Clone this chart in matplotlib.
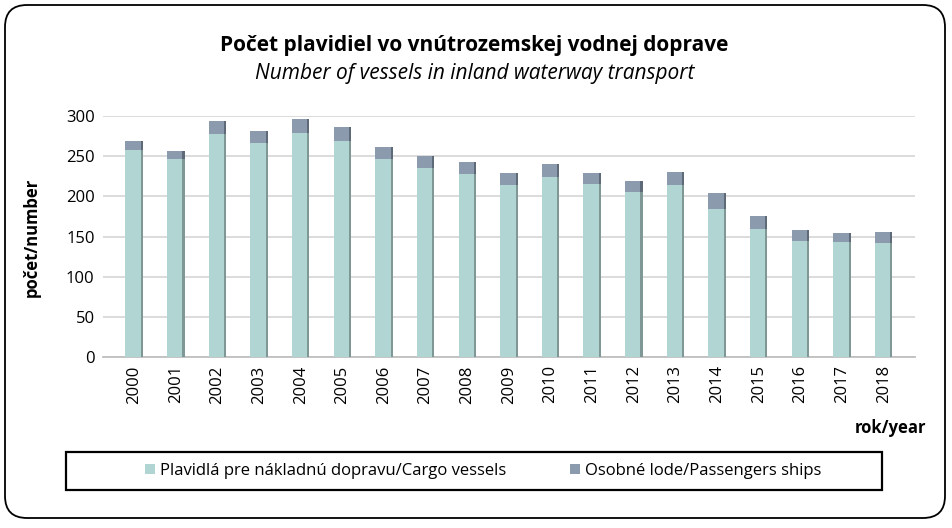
import numpy as np
import matplotlib
matplotlib.use("Agg")
import matplotlib.pyplot as plt
from matplotlib.patches import FancyBboxPatch, Rectangle

# data
years = [str(y) for y in range(2000, 2019)]
cargo = [258, 246, 278, 266, 279, 269, 246, 236, 228, 214,
         224, 216, 206, 214, 184, 159, 144, 143, 142]
passenger = [11, 11, 16, 15, 18, 17, 16, 14, 15, 15,
             17, 13, 13, 17, 20, 16, 14, 12, 14]
yticks = [0, 50, 100, 150, 200, 250, 300]

plt.rcParams['font.family'] = ['Open Sans', 'DejaVu Sans']

CARGO_C = '#b0d5d3'
PASS_C = '#8b9aac'

fig = plt.figure(figsize=(9.53, 5.28), dpi=100)
ax = fig.add_axes([0.108, 0.324, 0.852, 0.456])

x = np.arange(len(years))
w = 0.42
ax.bar(x, cargo, width=w, color=CARGO_C, zorder=3, label='Plavidlá pre nákladnú dopravu/Cargo vessels')
ax.bar(x, passenger, width=w, bottom=cargo, color=PASS_C, zorder=3, label='Osobné lode/Passengers ships')
# dark shade on the right side of each bar
sw = 0.05
ax.bar(x + w / 2 - sw / 2, cargo, width=sw, color='#7f9896', zorder=4)
ax.bar(x + w / 2 - sw / 2, passenger, width=sw, bottom=cargo, color='#5f6a78', zorder=4)

ax.set_xlim(-0.75, len(years) - 0.25)
ax.set_ylim(0, 300)
ax.set_yticks(yticks)
ax.set_yticklabels([str(v) for v in yticks], fontsize=12)
ax.set_xticks(x)
ax.set_xticklabels(years, rotation=90, fontsize=12)
ax.tick_params(axis='both', length=0, pad=6)
ax.grid(axis='y', color='#d9d9d9', linewidth=1.3, zorder=0)
for s in ['top', 'right', 'left']:
    ax.spines[s].set_visible(False)
ax.spines['bottom'].set_color('#bfbfbf')
ax.spines['bottom'].set_linewidth(1.3)

fig.text(0.033, 0.551, 'počet/number', rotation=90, ha='center', va='center',
         fontsize=12, fontweight='bold')
fig.text(0.934, 0.189, 'rok/year', ha='center', va='center', fontsize=12, fontweight='bold')

fig.text(0.498, 0.913, 'Počet plavidiel vo vnútrozemskej vodnej doprave',
         ha='center', va='center', fontsize=15, fontweight='bold')
fig.text(0.498, 0.860, 'Number of vessels in inland waterway transport',
         ha='center', va='center', fontsize=15, style='italic')

# outer rounded frame
frame = FancyBboxPatch((0.05, 0.10), 9.40, 5.13, boxstyle='round,pad=0,rounding_size=0.22',
                       transform=fig.dpi_scale_trans, fill=False, edgecolor='black',
                       linewidth=1.3)
fig.patches.append(frame)

# legend box
lbox = Rectangle((66 / 953, 1 - 490 / 528), (882 - 66) / 953, 38 / 528,
                 transform=fig.transFigure, fill=False, edgecolor='black', linewidth=1.6)
fig.patches.append(lbox)
handles, labels = ax.get_legend_handles_labels()
fig.legend(handles[:2], labels[:2], loc='center', bbox_to_anchor=(0.507, 0.108), ncol=2,
           frameon=False, fontsize=12, handlelength=0.6, handleheight=0.6,
           handletextpad=0.3, columnspacing=3.8)

fig.savefig('out.png', dpi=100)
